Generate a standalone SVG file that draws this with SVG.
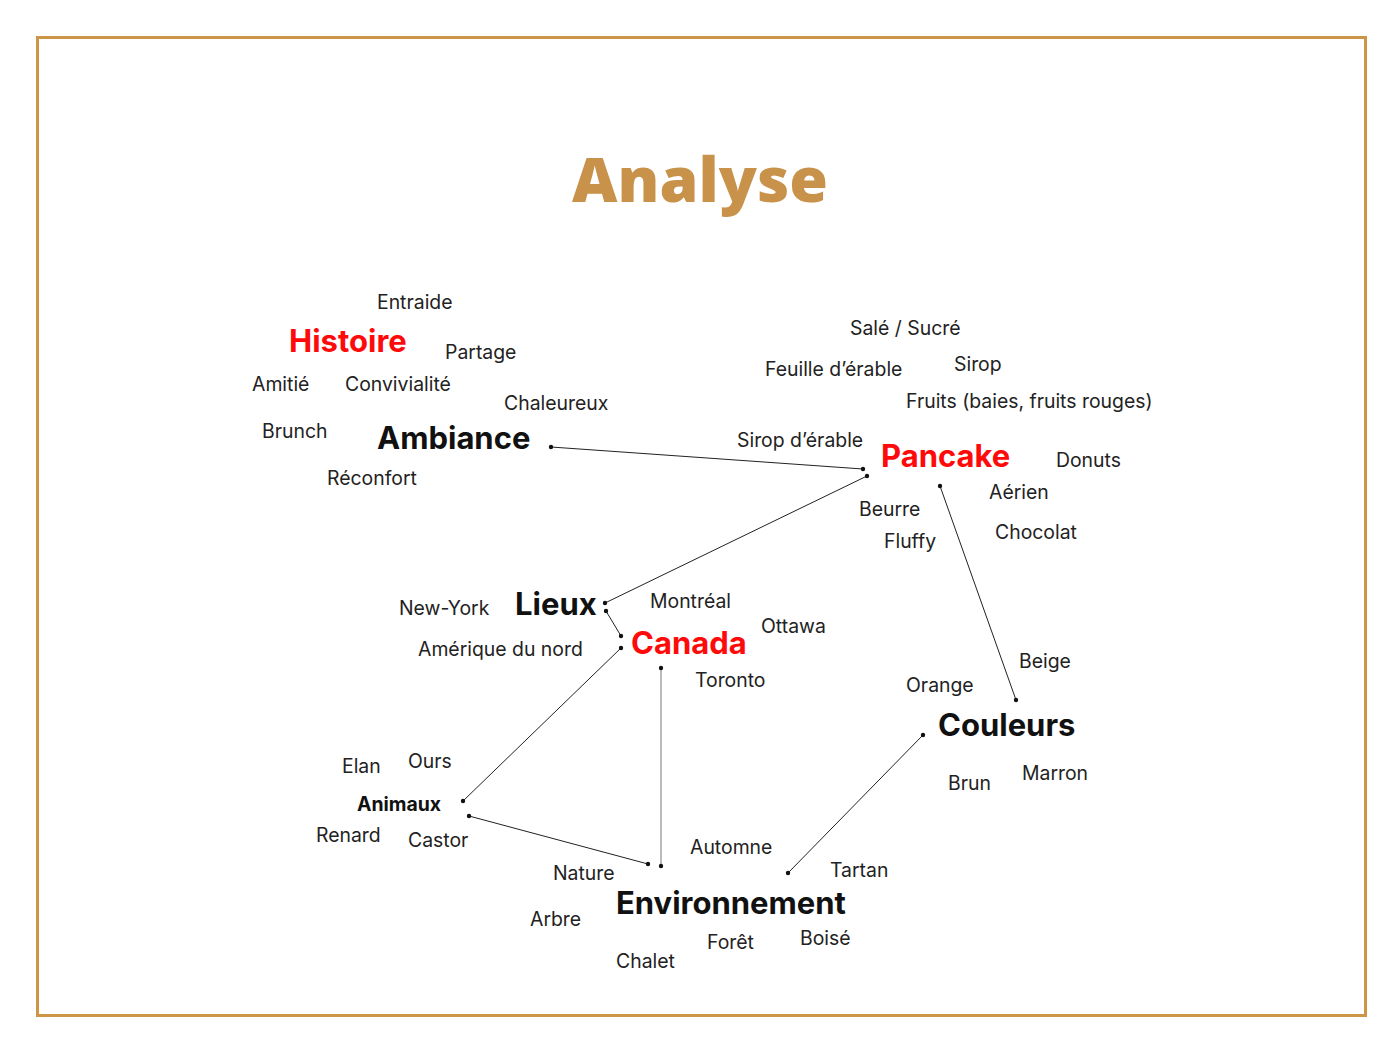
<svg xmlns="http://www.w3.org/2000/svg" width="1400" height="1050" viewBox="0 0 1400 1050">
<style>
.t{font-family:Inter,"Noto Sans","Liberation Sans",sans-serif;font-size:19.4px;fill:#222}
.n{font-family:Inter,"Noto Sans","Liberation Sans",sans-serif;font-size:31px;font-weight:700;fill:#111}
.r{fill:#ff0a0a}
.c line{stroke:#222;stroke-width:1}
.c circle{fill:#111}
</style>
<rect x="37.5" y="37.5" width="1328" height="978" fill="#fff" stroke="#cc9548" stroke-width="3"/>
<text x="700" y="202" text-anchor="middle" font-family="'Open Sans','Noto Sans',sans-serif" font-size="62" font-weight="800" fill="#c8924a" textLength="256" lengthAdjust="spacingAndGlyphs">Analyse</text>
<g class="c" id="connectors">
<line x1="551" y1="447" x2="863" y2="469"/>
<line x1="867" y1="476" x2="605" y2="603"/>
<line x1="606" y1="611" x2="621" y2="636"/>
<line x1="621" y1="648" x2="463" y2="801"/>
<line x1="661" y1="668" x2="661" y2="866" style="stroke:#777"/>
<line x1="469" y1="816" x2="648" y2="864"/>
<line x1="940" y1="486" x2="1016" y2="700"/>
<line x1="923" y1="735" x2="788" y2="873"/>
<circle cx="551" cy="447" r="2.2"/><circle cx="863" cy="469" r="2.2"/>
<circle cx="867" cy="476" r="2.2"/><circle cx="605" cy="603" r="2.2"/>
<circle cx="606" cy="611" r="2.2"/><circle cx="621" cy="636" r="2.2"/>
<circle cx="621" cy="648" r="2.2"/><circle cx="463" cy="801" r="2.2"/>
<circle cx="661" cy="668" r="2.2"/><circle cx="661" cy="866" r="2.2"/>
<circle cx="469" cy="816" r="2.2"/><circle cx="648" cy="864" r="2.2"/>
<circle cx="940" cy="486" r="2.2"/><circle cx="1016" cy="700" r="2.2"/>
<circle cx="923" cy="735" r="2.2"/><circle cx="788" cy="873" r="2.2"/>
</g>
<g id="histoire"><text class="n r" x="289" y="352">Histoire</text>
<text class="t" x="377" y="309">Entraide</text>
<text class="t" x="445" y="359">Partage</text>
<text class="t" x="252" y="391">Amitié</text>
<text class="t" x="345" y="391">Convivialité</text></g>
<g id="ambiance"><text class="n" x="377" y="449">Ambiance</text>
<text class="t" x="504" y="410">Chaleureux</text>
<text class="t" x="262" y="438">Brunch</text>
<text class="t" x="327" y="485">Réconfort</text></g>
<g id="pancake"><text class="n r" x="881" y="467">Pancake</text>
<text class="t" x="850" y="335">Salé / Sucré</text>
<text class="t" x="765" y="376">Feuille d’érable</text>
<text class="t" x="954" y="371">Sirop</text>
<text class="t" x="906" y="408">Fruits (baies, fruits rouges)</text>
<text class="t" x="737" y="447">Sirop d’érable</text>
<text class="t" x="1056" y="467">Donuts</text>
<text class="t" x="989" y="499">Aérien</text>
<text class="t" x="859" y="516">Beurre</text>
<text class="t" x="995" y="539">Chocolat</text>
<text class="t" x="884" y="548">Fluffy</text></g>
<g id="lieux"><text class="n" x="515" y="615">Lieux</text>
<text class="t" x="399" y="615">New-York</text>
<text class="t" x="418" y="656">Amérique du nord</text></g>
<g id="canada"><text class="n r" x="631" y="654">Canada</text>
<text class="t" x="650" y="608">Montréal</text>
<text class="t" x="761" y="633">Ottawa</text>
<text class="t" x="695" y="687">Toronto</text></g>
<g id="couleurs"><text class="n" x="938" y="736">Couleurs</text>
<text class="t" x="1019" y="668">Beige</text>
<text class="t" x="906" y="692">Orange</text>
<text class="t" x="948" y="790">Brun</text>
<text class="t" x="1022" y="780">Marron</text></g>
<g id="animaux"><text class="t" x="357" y="811" style="font-weight:700;fill:#111">Animaux</text>
<text class="t" x="342" y="773">Elan</text>
<text class="t" x="408" y="768">Ours</text>
<text class="t" x="316" y="842">Renard</text>
<text class="t" x="408" y="847">Castor</text></g>
<g id="environnement"><text class="n" x="616" y="914">Environnement</text>
<text class="t" x="690" y="854">Automne</text>
<text class="t" x="553" y="880">Nature</text>
<text class="t" x="830" y="877">Tartan</text>
<text class="t" x="530" y="926">Arbre</text>
<text class="t" x="707" y="949">Forêt</text>
<text class="t" x="800" y="945">Boisé</text>
<text class="t" x="616" y="968">Chalet</text></g>
</svg>
